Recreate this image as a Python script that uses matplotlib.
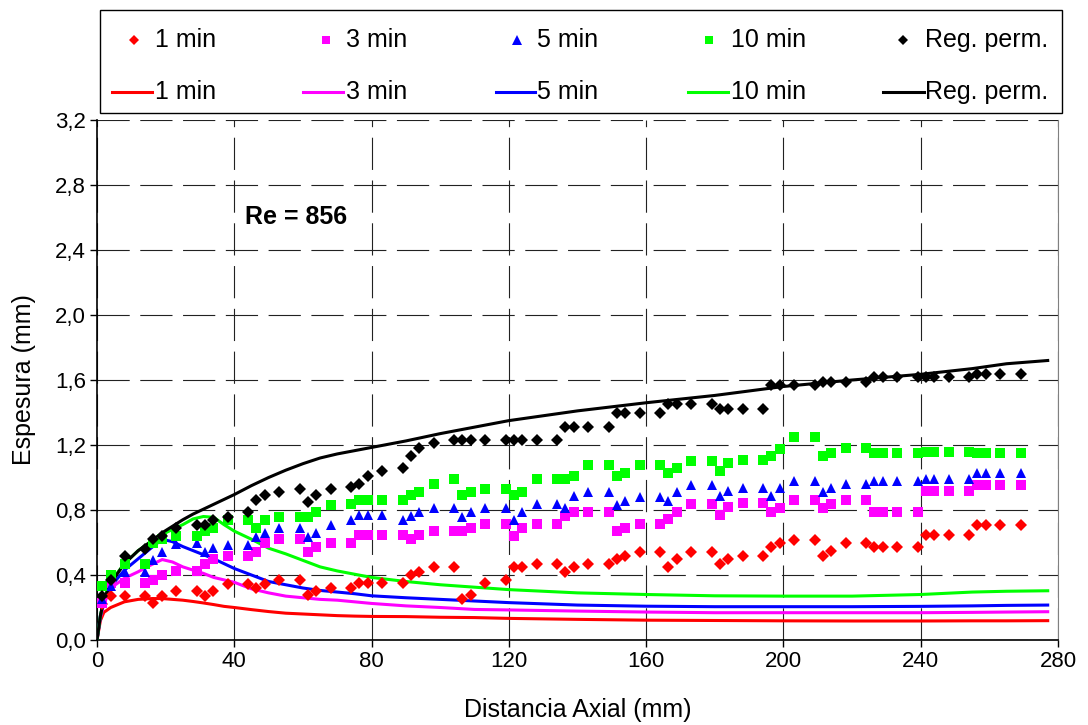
import matplotlib
matplotlib.use("Agg")
import matplotlib.pyplot as plt
from matplotlib.lines import Line2D
from matplotlib.patches import Rectangle

plt.rcParams['font.family'] = ['Liberation Sans', 'DejaVu Sans']

# measured points (axial distance in mm)
pos_mm = [1.5, 4.0, 8.1, 14.1, 16.4, 18.9, 23.1, 29.1, 31.4, 33.9,
          38.1, 44.1, 46.4, 48.9, 53.1, 59.1, 61.4, 63.9, 68.1,
          74.1, 76.4, 78.9, 83.1, 89.1, 91.4, 93.9, 98.1, 104.1, 106.4, 108.9,
          113.1, 119.1, 121.4, 123.9, 128.1, 134.1,
          136.4, 138.9, 143.1, 149.1, 151.4, 153.9, 158.1, 164.1, 166.4, 168.9, 173.1,
          179.1, 181.4, 183.9, 188.1, 194.1, 196.4, 198.9, 203.1, 209.1, 211.4, 213.9,
          218.1, 224.1, 226.4, 228.9, 233.1, 239.1, 241.4, 243.9, 248.1,
          254.1, 256.4, 258.9, 263.1, 269.1]

pts_1min = [0.22, 0.27, 0.27, 0.27, 0.23, 0.27, 0.30, 0.30, 0.27, 0.30,
            0.345, 0.345, 0.32, 0.345, 0.37, 0.37, 0.28, 0.30, 0.32,
            0.32, 0.35, 0.35, 0.35, 0.35, 0.40, 0.42, 0.45, 0.45, 0.25, 0.28,
            0.35, 0.37, 0.45, 0.45, 0.47, 0.47,
            0.42, 0.45, 0.47, 0.47, 0.50, 0.52, 0.54, 0.54, 0.45, 0.50, 0.54,
            0.54, 0.47, 0.50, 0.52, 0.52, 0.57, 0.595, 0.615, 0.615, 0.52, 0.55,
            0.595, 0.595, 0.57, 0.57, 0.57, 0.57, 0.645, 0.645, 0.645,
            0.645, 0.71, 0.71, 0.71, 0.71]

pts_3min = [0.23, 0.35, 0.35, 0.35, 0.37, 0.40, 0.425, 0.425, 0.47, 0.50,
            0.52, 0.52, 0.54, 0.595, 0.62, 0.62, 0.54, 0.57, 0.595,
            0.595, 0.645, 0.645, 0.645, 0.645, 0.62, 0.645, 0.67, 0.67, 0.67, 0.69,
            0.715, 0.715, 0.64, 0.69, 0.715, 0.715,
            0.765, 0.79, 0.79, 0.79, 0.67, 0.69, 0.715, 0.715, 0.745, 0.79, 0.835,
            0.835, 0.77, 0.82, 0.845, 0.845, 0.79, 0.815, 0.86, 0.86, 0.81, 0.835,
            0.86, 0.86, 0.79, 0.79, 0.79, 0.79, 0.915, 0.915, 0.915,
            0.915, 0.955, 0.955, 0.955, 0.955]

pts_5min = [0.25, 0.33, 0.42, 0.42, 0.49, 0.54, 0.59, 0.595, 0.54, 0.565,
            0.585, 0.585, 0.635, 0.66, 0.69, 0.69, 0.635, 0.66, 0.71,
            0.74, 0.77, 0.77, 0.77, 0.74, 0.765, 0.79, 0.815, 0.815, 0.76, 0.79,
            0.81, 0.81, 0.74, 0.79, 0.835, 0.835,
            0.81, 0.885, 0.91, 0.91, 0.83, 0.855, 0.88, 0.88, 0.855, 0.91, 0.955,
            0.955, 0.885, 0.915, 0.935, 0.935, 0.885, 0.935, 0.98, 0.98, 0.91, 0.935,
            0.96, 0.96, 0.98, 0.98, 0.98, 0.98, 0.99, 0.99, 0.99,
            0.99, 1.03, 1.03, 1.03, 1.03]

pts_10min = [0.33, 0.40, 0.47, 0.47, 0.60, 0.62, 0.64, 0.64, 0.67, 0.69,
             0.74, 0.74, 0.69, 0.74, 0.76, 0.76, 0.76, 0.79, 0.83,
             0.84, 0.86, 0.86, 0.86, 0.86, 0.89, 0.91, 0.96, 0.99, 0.89, 0.91,
             0.93, 0.93, 0.89, 0.91, 0.99, 0.99,
             0.99, 1.01, 1.08, 1.08, 1.01, 1.03, 1.08, 1.08, 1.03, 1.06, 1.10,
             1.10, 1.04, 1.09, 1.11, 1.11, 1.13, 1.175, 1.25, 1.25, 1.13, 1.15,
             1.18, 1.18, 1.15, 1.15, 1.15, 1.15, 1.155, 1.155, 1.155,
             1.155, 1.15, 1.15, 1.15, 1.15]

pts_perm = [0.27, 0.37, 0.52, 0.56, 0.62, 0.64, 0.69, 0.71, 0.71, 0.74,
            0.76, 0.79, 0.86, 0.89, 0.91, 0.93, 0.85, 0.89, 0.93,
            0.94, 0.96, 1.01, 1.04, 1.06, 1.13, 1.18, 1.21, 1.23, 1.23, 1.23,
            1.23, 1.23, 1.23, 1.23, 1.23, 1.23,
            1.31, 1.31, 1.31, 1.31, 1.40, 1.40, 1.40, 1.40, 1.45, 1.45, 1.45,
            1.45, 1.42, 1.42, 1.42, 1.42, 1.57, 1.57, 1.57, 1.57, 1.59, 1.59,
            1.59, 1.59, 1.62, 1.62, 1.62, 1.62, 1.62, 1.62, 1.62,
            1.62, 1.64, 1.64, 1.64, 1.64]

# simulated curves
line_mm = [0, 1, 2, 4, 8, 12, 16, 19, 22, 25, 28, 31, 34, 37, 40, 45, 50, 55, 60,
           65, 70, 75, 80, 90, 100, 110, 120, 140, 160, 180, 200, 220, 240, 255, 265, 277]

line_1min = [0, 0.12, 0.17, 0.20, 0.235, 0.25, 0.255, 0.255, 0.25, 0.245, 0.237, 0.228,
             0.218, 0.207, 0.20, 0.187, 0.175, 0.165, 0.16, 0.155, 0.15, 0.147, 0.145,
             0.144, 0.14, 0.138, 0.133, 0.127, 0.122, 0.12, 0.118, 0.117, 0.117, 0.118,
             0.118, 0.119]
line_3min = [0, 0.14, 0.22, 0.32, 0.38, 0.42, 0.465, 0.495, 0.48, 0.45, 0.43, 0.41,
             0.385, 0.37, 0.355, 0.315, 0.29, 0.27, 0.26, 0.25, 0.245, 0.235, 0.225,
             0.21, 0.20, 0.188, 0.185, 0.178, 0.172, 0.168, 0.168, 0.168, 0.168, 0.17,
             0.172, 0.174]
line_5min = [0, 0.15, 0.24, 0.33, 0.43, 0.50, 0.57, 0.62, 0.605, 0.575, 0.55, 0.525,
             0.50, 0.47, 0.44, 0.40, 0.36, 0.34, 0.32, 0.305, 0.295, 0.285, 0.272,
             0.26, 0.25, 0.24, 0.23, 0.215, 0.208, 0.205, 0.205, 0.205, 0.207, 0.21,
             0.213, 0.215]
line_10min = [0, 0.15, 0.25, 0.36, 0.47, 0.55, 0.61, 0.65, 0.68, 0.71, 0.745, 0.76,
              0.755, 0.71, 0.67, 0.62, 0.565, 0.53, 0.49, 0.45, 0.425, 0.405, 0.385,
              0.36, 0.34, 0.325, 0.31, 0.29, 0.28, 0.272, 0.27, 0.27, 0.28, 0.295,
              0.30, 0.303]
line_perm = [0, 0.15, 0.25, 0.35, 0.47, 0.55, 0.61, 0.66, 0.70, 0.74, 0.775, 0.805,
             0.835, 0.865, 0.895, 0.95, 1.0, 1.045, 1.085, 1.12, 1.145, 1.165, 1.185,
             1.225, 1.27, 1.31, 1.35, 1.41, 1.46, 1.505, 1.56, 1.60, 1.635, 1.67,
             1.70, 1.72]

labels = ['1 min', '3 min', '5 min', '10 min', 'Reg. perm.']
colors = ['#FF0000', '#FF00FF', '#0000FF', '#00FF00', '#000000']
markers = ['D', 's', '^', 's', 'D']
msizes = [6.5, 6.5, 7.5, 6.5, 6.5]

x_ticks = [0, 40, 80, 120, 160, 200, 240, 280]
y_ticks = [0.0, 0.4, 0.8, 1.2, 1.6, 2.0, 2.4, 2.8, 3.2]
y_tick_labels = ['0,0', '0,4', '0,8', '1,2', '1,6', '2,0', '2,4', '2,8', '3,2']

fig = plt.figure(figsize=(10.88, 7.25), dpi=100)
ax = fig.add_axes([97 / 1088, 1 - 640 / 725, 961 / 1088, 520 / 725])

dash = (0, (29, 9.5))
ax.grid(True, color='#222222', linestyle=dash, linewidth=0.8, zorder=0)

all_lines = [line_1min, line_3min, line_5min, line_10min, line_perm]
all_pts = [pts_1min, pts_3min, pts_5min, pts_10min, pts_perm]

for ys, c in zip(all_lines, colors):
    ax.plot(line_mm, ys, color=c, linewidth=2.2, zorder=3)

for ys, c, m, ms in zip(all_pts, colors, markers, msizes):
    ax.plot(pos_mm, ys, linestyle='none', marker=m, markersize=ms,
            color=c, markeredgewidth=0, zorder=4)

ax.set_xlim(0, 280)
ax.set_ylim(0, 3.2)
ax.set_xticks(x_ticks)
ax.set_yticks(y_ticks)
ax.set_yticklabels(y_tick_labels)
ax.tick_params(labelsize=16, direction='out', length=5, width=1, pad=3)
ax.spines['top'].set_visible(False)
ax.spines['right'].set_color('#808080')
ax.spines['left'].set_linewidth(1.2)
ax.spines['bottom'].set_linewidth(1.2)

ax.set_xlabel('Distancia Axial (mm)', fontsize=18)
ax.set_ylabel('Espesura (mm)', fontsize=18)
ax.xaxis.set_label_coords(0.5, -0.112)
ax.yaxis.set_label_coords(-0.063, 0.5)
ax.text(43, 2.6, 'Re = 856', fontsize=18, fontweight='bold', va='center', ha='left')

# legend drawn in pixel coordinates
lax = fig.add_axes([0, 0, 1, 1], zorder=5)
lax.set_xlim(0, 1088)
lax.set_ylim(725, 0)
lax.axis('off')
lax.add_patch(Rectangle((100, 10), 962, 103, fill=False, edgecolor='black', linewidth=1))

mk_x = [134, 326, 517, 709, 903]
ln_x = [(112, 152), (303, 343), (496, 535), (688, 728), (883, 924)]
txt_x = [155, 346, 537, 731, 925]
for i in range(5):
    lax.add_line(Line2D([mk_x[i]], [40], marker=markers[i], markersize=msizes[i] - 1,
                        color=colors[i], markeredgewidth=0, linestyle='none'))
    lax.text(txt_x[i], 40, labels[i], fontsize=18, va='center', ha='left')
    lax.add_line(Line2D(list(ln_x[i]), [92, 92], color=colors[i], linewidth=2.2))
    lax.text(txt_x[i], 92, labels[i], fontsize=18, va='center', ha='left')

fig.savefig('out.png', dpi=100)
